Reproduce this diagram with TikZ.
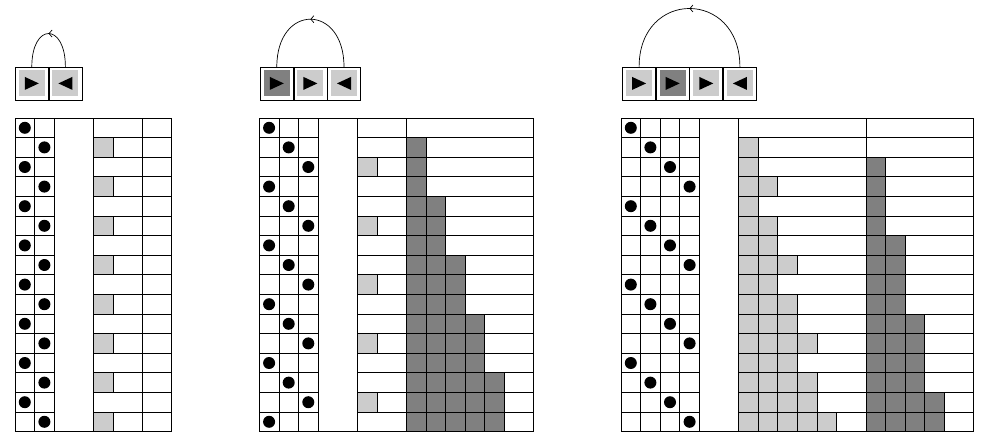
\documentclass[tikz,border=0pt]{standalone}
\usetikzlibrary{decorations.markings,arrows.meta}
\definecolor{lightg}{gray}{0.8}
\definecolor{darkg}{gray}{0.5}
\def\cs{19.6}
\def\gy{118}
\tikzset{
  gl/.style={line width=0.7pt, draw=black},
  lightcell/.style={fill=lightg, draw=black, line width=0.7pt},
  darkcell/.style={fill=darkg, draw=black, line width=0.7pt},
  dot/.style={fill=black},
  cellbase/.style={draw, line width=0.8pt, minimum width=33pt, minimum height=33pt, inner sep=0pt, outer sep=0pt},
  rcell/.style={cellbase, path picture={
      \fill[#1] ([shift={(3.5pt,-3.5pt)}]path picture bounding box.north west) rectangle ([shift={(-3.5pt,3.5pt)}]path picture bounding box.south east);
      \fill[black] ([shift={(-7pt,6.5pt)}]path picture bounding box.center) -- ++(0pt,-13pt) -- ++(14pt,6.5pt) -- cycle;}},
  lcell/.style={cellbase, path picture={
      \fill[#1] ([shift={(3.5pt,-3.5pt)}]path picture bounding box.north west) rectangle ([shift={(-3.5pt,3.5pt)}]path picture bounding box.south east);
      \fill[black] ([shift={(7pt,6.5pt)}]path picture bounding box.center) -- ++(0pt,-13pt) -- ++(-14pt,6.5pt) -- cycle;}},
  loopline/.style={line width=0.7pt, postaction={decorate},
    decoration={markings, mark=at position 0.5 with {\arrow{Straight Barb[length=3pt,width=7pt]}}}},
}
\newcommand{\mygrid}[5]{%
  \pgfmathsetmacro{\gXd}{#1+#2*\cs}%
  \pgfmathsetmacro{\gXa}{#1+(#2+2)*\cs}%
  \pgfmathsetmacro{\gXb}{\gXa+#3*\cs}%
  \pgfmathsetmacro{\gXe}{\gXb+#4*\cs}%
  \foreach \r/\a/\b in {#5} {%
    \pgfmathsetmacro{\gYt}{\gy+\r*\cs}%
    \ifnum\a>0 \foreach \k in {1,...,\a} {\draw[lightcell] ({\gXa+(\k-1)*\cs},\gYt) rectangle ++(\cs,\cs);}\fi
    \ifnum\b>0 \foreach \k in {1,...,\b} {\draw[darkcell] ({\gXb+(\k-1)*\cs},\gYt) rectangle ++(\cs,\cs);}\fi
    \pgfmathtruncatemacro{\gDc}{mod(\r,#2)}%
    \fill[dot] ({#1+(\gDc+0.5)*\cs},{\gy+(\r+0.5)*\cs}) circle (6pt);
  }
  \foreach \i in {0,...,#2} {\draw[gl] ({#1+\i*\cs},\gy) -- ++(0,16*\cs);}
  \foreach \j in {0,...,16} {
    \draw[gl] (#1,{\gy+\j*\cs}) -- (\gXd,{\gy+\j*\cs});
    \draw[gl] (\gXa,{\gy+\j*\cs}) -- (\gXe,{\gy+\j*\cs});
  }
  \draw[gl] (\gXd,\gy) -- (\gXa,\gy);
  \draw[gl] (\gXd,{\gy+16*\cs}) -- (\gXa,{\gy+16*\cs});
  \draw[gl] (\gXa,\gy) -- ++(0,16*\cs);
  \draw[gl] (\gXb,\gy) -- ++(0,16*\cs);
  \draw[gl] (\gXe,\gy) -- ++(0,16*\cs);
}
\begin{document}
\begin{tikzpicture}[x=1pt,y=-1pt]
\useasboundingbox (0,0) rectangle (987,440);
% grid 1
\mygrid{15}{2}{2.5}{1.5}{0/0/0,1/1/0,2/0/0,3/1/0,4/0/0,5/1/0,6/0/0,7/1/0,8/0/0,9/1/0,10/0/0,11/1/0,12/0/0,13/1/0,14/0/0,15/1/0}
% grid 2
\mygrid{259.3}{3}{2.5}{6.5}{0/0/0,1/0/1,2/1/1,3/0/1,4/0/2,5/1/2,6/0/2,7/0/3,8/1/3,9/0/3,10/0/4,11/1/4,12/0/4,13/0/5,14/1/5,15/0/5}
% grid 3
\mygrid{621}{4}{6.5}{5.5}{0/0/0,1/1/0,2/1/1,3/2/1,4/1/1,5/2/1,6/2/2,7/3/2,8/2/2,9/3/2,10/3/3,11/4/3,12/3/3,13/4/3,14/4/4,15/5/4}
% boxes
\node[rcell=lightg] (a1) at (31.8,83.4) {};
\node[lcell=lightg] (a2) at (65.4,83.4) {};
\node[rcell=darkg] (b1) at (276.8,83.4) {};
\node[rcell=lightg] (b2) at (310.4,83.4) {};
\node[lcell=lightg] (b3) at (344,83.4) {};
\node[rcell=lightg] (c1) at (639.1,83.4) {};
\node[rcell=darkg] (c2) at (672.7,83.4) {};
\node[rcell=lightg] (c3) at (706.3,83.4) {};
\node[lcell=lightg] (c4) at (739.9,83.4) {};
\draw[loopline] (a2.north) .. controls +(0,-44.5) and +(0,-44.5) .. (a1.north);
\draw[loopline] (b3.north) .. controls +(0,-63.6) and +(0,-63.6) .. (b1.north);
\draw[loopline] (c4.north) .. controls +(0,-77.9) and +(0,-77.9) .. (c1.north);
\end{tikzpicture}
\end{document}
